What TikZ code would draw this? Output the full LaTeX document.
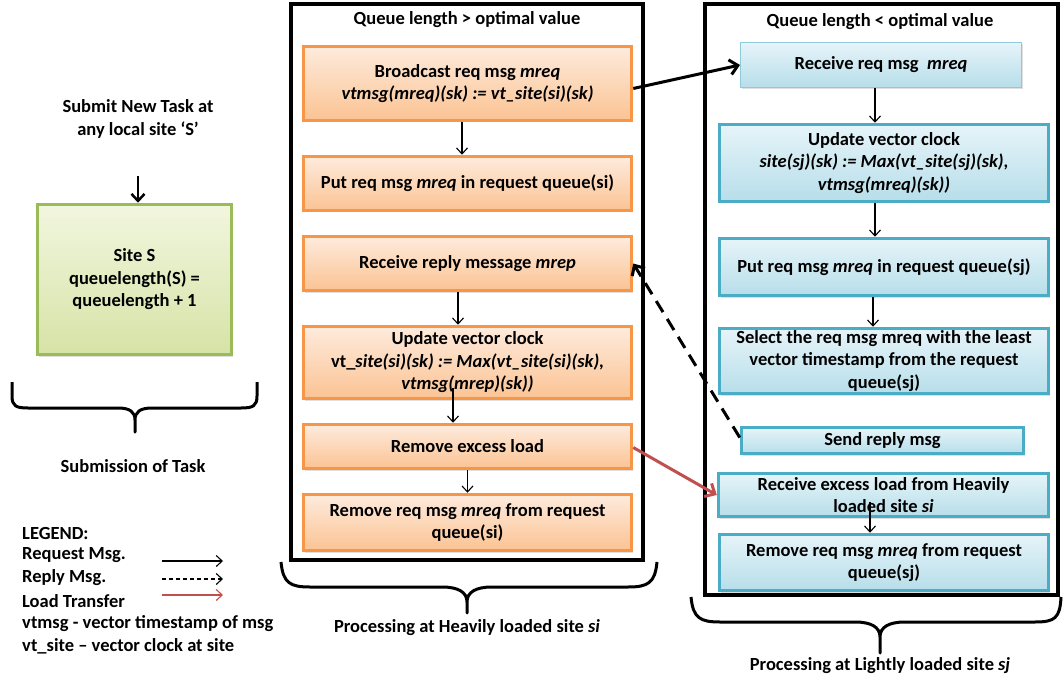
\documentclass[tikz,border=0pt]{standalone}
\usepackage{fontspec}
\setmainfont{Carlito}
\usetikzlibrary{arrows.meta,shadows,calc}
\definecolor{orgB}{HTML}{F79646}
\definecolor{orgT}{HTML}{FEEBDD}
\definecolor{orgBot}{HTML}{FBC393}
\definecolor{bluB}{HTML}{4BACC6}
\definecolor{bluT}{HTML}{E6F4F9}
\definecolor{bluBot}{HTML}{B7DEEA}
\definecolor{bluThin}{HTML}{8FCADB}
\definecolor{grnB}{HTML}{9BBB59}
\definecolor{grnT}{HTML}{F2F6DF}
\definecolor{grnBot}{HTML}{D6E3A6}
\definecolor{loadred}{HTML}{C0504D}
\begin{document}
\begin{tikzpicture}[x=1pt,y=-1pt,
  every node/.style={font=\fontsize{18.5}{22.5}\selectfont\bfseries, align=center, inner sep=0pt},
  shad/.style={drop shadow={opacity=0.25,shadow xshift=1.5pt,shadow yshift=-2pt}},
  obox/.style={draw=orgB, line width=3.5pt, top color=orgT, bottom color=orgBot, shad, minimum width=328pt},
  bbox/.style={draw=bluB, line width=3.5pt, top color=bluT, bottom color=bluBot, shad, minimum width=329pt},
  bthin/.style={draw=bluThin, line width=1pt, top color=bluT, bottom color=bluBot, shad},
  gbox/.style={draw=grnB, line width=3.5pt, top color=grnT, bottom color=grnBot, shad},
  frame/.style={draw=black, line width=4pt},
  flow/.style={draw=black, line width=1.1pt, -{Straight Barb[length=6pt,width=11pt]}},
  reqarr/.style={draw=black, line width=3pt, -{Straight Barb[length=8pt,width=15pt]}},
  reparr/.style={draw=black, line width=3pt, dash pattern=on 13pt off 8pt, -{Straight Barb[length=8pt,width=15pt]}},
  loadarr/.style={draw=loadred, line width=3pt, -{Straight Barb[length=8pt,width=15pt]}},
  legreq/.style={draw=black, line width=1.1pt, -{Straight Barb[length=6pt,width=11pt]}},
  legrep/.style={draw=black, line width=1.1pt, dash pattern=on 4pt off 3pt, -{Straight Barb[length=6pt,width=11pt]}},
  legload/.style={draw=loadred, line width=1.1pt, -{Straight Barb[length=6pt,width=11pt]}},
  brace/.style={draw=black, line width=3pt, line join=round},
  legtxt/.style={anchor=west}
]
\useasboundingbox (0,0) rectangle (1063,679);

% ---------- left column ----------
\node (submit) at (138,119) {Submit New Task at\\any local site ‘S’};
\node[gbox, minimum width=194pt, minimum height=150pt] (g) at (134.5,279.5)
  {Site S\\queuelength(S) =\\queuelength + 1};
\draw[line width=2.5pt, -{Straight Barb[length=7pt,width=13pt]}] ([yshift=-38pt]submit.south) -- (submit.south |- g.north);
\draw[brace] (12,382) -- (12,396) .. controls (12,406) and (16,408) .. (28,408) -- (118,408)
  .. controls (130,408) and (135,412) .. (135,420) -- (135,432) -- (135,420)
  .. controls (135,412) and (140,408) .. (152,408) -- (241,408)
  .. controls (253,408) and (257,406) .. (257,396) -- (257,382);
\node (subtask) at (133,466) {Submission of Task};

% legend
\node[legtxt] (leg0) at (22,533) {LEGEND:};
\node[legtxt] (leg1) at (22,555) {Request Msg.};
\node[legtxt] (leg2) at (22,578) {Reply Msg.};
\node[legtxt] (leg3) at (22,601) {Load Transfer};
\node[legtxt] (leg4) at (22,624) {vtmsg - vector timestamp of msg};
\node[legtxt] (leg5) at (22,646) {vt\_site – vector clock at site};
\coordinate (la1) at (162,561); \coordinate (lb1) at (223,561);
\coordinate (la2) at (162,579); \coordinate (lb2) at (223,579);
\coordinate (la3) at (162,595); \coordinate (lb3) at (223,595);
\draw[legreq] (la1) -- (lb1);
\draw[legrep] (la2) -- (lb2);
\draw[legload] (la3) -- (lb3);

% ---------- middle column ----------
\draw[frame] (291,4) rectangle (643,560);
\node (t1) at (467,20) {Queue length > optimal value};
\node[obox, minimum height=74pt] (o1) at (467.5,83.5)
  {Broadcast req msg \textit{mreq}\\\textit{vtmsg(mreq)(sk) := vt\_site(si)(sk)}};
\node[obox, minimum height=54pt] (o2) at (467.5,183.5)
  {Put req msg \textit{mreq} in request queue(si)};
\node[obox, minimum height=54pt] (o3) at (467.5,263.5)
  {Receive reply message \textit{mrep}};
\node[obox, minimum height=72pt] (o4) at (467.5,362.5)
  {Update vector clock\\vt\_\textit{site(si)(sk) := Max(vt\_site(si)(sk),}\\\textit{vtmsg(mrep)(sk))}};
\node[obox, minimum height=44pt] (o5) at (467.5,446.5)
  {Remove excess load};
\node[obox, minimum height=56pt] (o6) at (467.5,522.5)
  {Remove req msg \textit{mreq} from request\\queue(si)};
\draw[flow] ([xshift=-5.5pt]o1.south) -- ([xshift=-5.5pt]o2.north);
\draw[flow] ([xshift=-9.5pt]o3.south) -- ([xshift=-9.5pt]o4.north);
\draw[flow] ([xshift=-14.5pt,yshift=12pt]o4.south) -- ([xshift=-14.5pt]o5.north);
\draw[flow] (o5.south) -- (o6.north);
\draw[brace] (281,562) .. controls (283,583) and (290,587) .. (310,587) -- (442,587)
  .. controls (458,587) and (467,592) .. (467,602) -- (467,613) -- (467,602)
  .. controls (467,592) and (476,587) .. (492,587) -- (628,587)
  .. controls (648,587) and (655,583) .. (657,562);
\node (heavy) at (467,628) {Processing at Heavily loaded site \textit{si}};

% ---------- right column ----------
\draw[frame] (705,4) rectangle (1058,595);
\node (t2) at (880,22) {Queue length < optimal value};
\node[bthin, minimum width=281pt, minimum height=45pt] (b1) at (881,65)
  {Receive req msg~ \textit{mreq}};
\node[bbox, minimum height=77pt] (b2) at (884,163)
  {Update vector clock\\\textit{site(sj)(sk) := Max(vt\_site(sj)(sk),}\\\textit{vtmsg(mreq)(sk))}};
\node[bbox, minimum height=57pt] (b3) at (884,267)
  {Put req msg \textit{mreq} in request queue(sj)};
\node[bbox, minimum height=65pt] (b4) at (884,361)
  {Select the req msg mreq with the least\\vector timestamp from the request\\queue(sj)};
\node[bbox, minimum width=282pt, minimum height=26pt] (b5) at (882.5,440.5)
  {Send reply msg};
\node[bbox, minimum width=330pt, minimum height=43pt] (b6) at (883.5,495)
  {Receive excess load from Heavily\\loaded site \textit{si}};
\node[bbox, minimum height=56pt] (b7) at (884,562.5)
  {Remove req msg \textit{mreq} from request\\queue(sj)};
\draw[flow] ([xshift=-6pt]b1.south) -- ([xshift=-9pt]b2.north);
\draw[flow] ([xshift=-9pt]b2.south) -- ([xshift=-9pt]b3.north);
\draw[flow] ([xshift=-11pt]b3.south) -- ([xshift=-11pt]b4.north);
\draw[flow] ([xshift=-13.5pt,yshift=16pt]b6.south) -- ([xshift=-14pt]b7.north);
\draw[brace] (691,597) .. controls (693,618) and (700,622) .. (720,622) -- (855,622)
  .. controls (871,622) and (880,627) .. (880,637) -- (880,653) -- (880,637)
  .. controls (880,627) and (889,622) .. (905,622) -- (1035,622)
  .. controls (1055,622) and (1060,618) .. (1061,597);
\node (light) at (880,666) {Processing at Lightly loaded site \textit{sj}};

% ---------- cross arrows ----------
\draw[reqarr] ([yshift=-5pt]o1.east) -- (b1.west);
\draw[reparr] ([yshift=3pt]b5.west) -- (o3.east);
\draw[loadarr] ([yshift=-1pt]o5.east) -- (b6.west);
\end{tikzpicture}
\end{document}
